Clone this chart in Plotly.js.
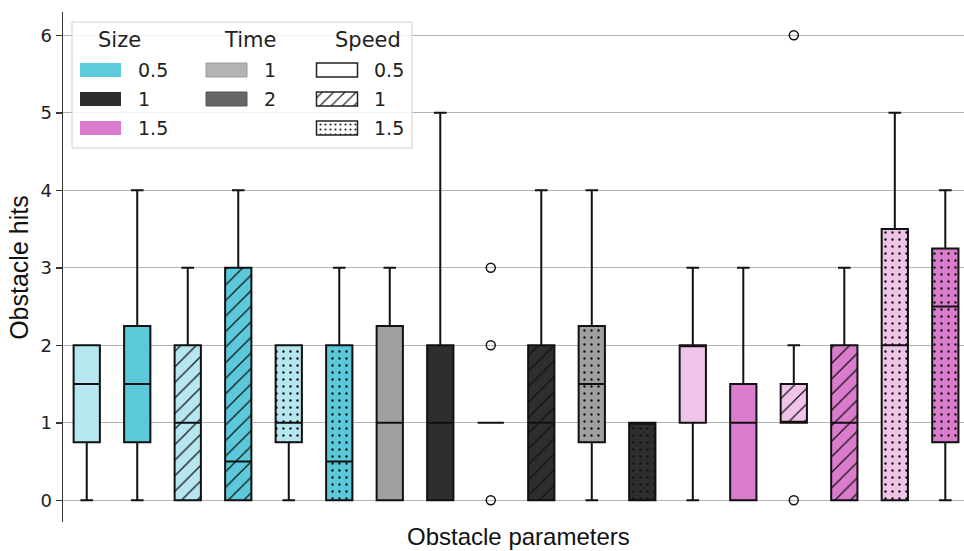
<!DOCTYPE html>
<html><head><meta charset="utf-8">
<script src="https://cdn.plot.ly/plotly-3.0.1.min.js"></script>
<style>html,body{margin:0;padding:0;background:#fff}#chart{width:964px;height:551px}</style>
</head><body><div id="chart"></div>
<script>
// ---- data ----
const sizeCat  = ['0.5','0.5','0.5','0.5','0.5','0.5','1','1','1','1','1','1','1.5','1.5','1.5','1.5','1.5','1.5'];
const timeCat  = ['1','2','1','2','1','2','1','2','1','2','1','2','1','2','1','2','1','2'];
const speedCat = ['0.5','0.5','1','1','1.5','1.5','0.5','0.5','1','1','1.5','1.5','0.5','0.5','1','1','1.5','1.5'];
const q1Vals     = [0.75,0.75,0,0,0.75,0,  0,0,1,0,0.75,0,  1,0,1,0,0,0.75];
const medianVals = [1.5,1.5,1,0.5,1,0.5,   1,1,1,1,1.5,1,   2,1,1,1,2,2.5];
const q3Vals     = [2,2.25,2,3,2,2,        2.25,2,1,2,2.25,1, 2,1.5,1.5,2,3.5,3.25];
const lowerVals  = [0,0,0,0,0,0,           0,0,1,0,0,0,     0,0,1,0,0,0];
const upperVals  = [2,4,3,4,2,3,           3,5,1,4,4,1,     3,3,2,3,5,4];
const outlierBox = [8,8,8,14,14];
const outlierVal = [0,2,3,0,6];
const yTicks = [0,1,2,3,4,5,6];

// legend entries
const legSize  = ['0.5','1','1.5'];
const legTime  = ['1','2'];
const legSpeed = ['0.5','1','1.5'];

// ---- styles ----
const fillMap = {
  '0.5': {'1':'#b6e7f0','2':'#5cc9da'},
  '1':   {'1':'#a0a0a0','2':'#2e2e2e'},
  '1.5': {'1':'#f0c4e9','2':'#d97ccb'}
};
const sizeLegColor = {'0.5':'#5ecbdc','1':'#2e2e2e','1.5':'#da7ccc'};
const timeLegColor = {'1':'#b3b3b3','2':'#666666'};
const patShape = {'0.5':'','1':'/','1.5':'.'};
const patSize  = {'0.5':8,'1':11,'1.5':7};
const patSol   = {'0.5':0.2,'1':0.11,'1.5':0.09};

const idx = sizeCat.map((_,i)=>i);
const traces = [];
// box fills (with patterns) drawn as bars between q1 and q3, one trace per box
idx.forEach(i=>{
  const fill = fillMap[sizeCat[i]][timeCat[i]];
  const sp = speedCat[i];
  const marker = {color: fill, line:{width:0}};
  if (patShape[sp]) marker.pattern = {shape: patShape[sp], bgcolor: fill, fgcolor:'#111111', fgopacity:1,
      size: patSize[sp], solidity: patSol[sp], fillmode:'overlay'};
  traces.push({type:'bar', x:[i], base:[q1Vals[i]], y:[q3Vals[i]-q1Vals[i]], width:0.52,
    marker: marker, hoverinfo:'skip', showlegend:false});
});
// box outlines, medians, whiskers
traces.push({
  type:'box', x: idx, q1: q1Vals, median: medianVals, q3: q3Vals,
  lowerfence: lowerVals, upperfence: upperVals,
  width:0.52, whiskerwidth:0.48, fillcolor:'rgba(0,0,0,0)',
  line:{color:'#111', width:2}, boxpoints:false, hoverinfo:'skip', showlegend:false
});
// outliers
traces.push({
  type:'scatter', mode:'markers', x: outlierBox, y: outlierVal,
  marker:{symbol:'circle-open', size:9, color:'#111', line:{width:1.5, color:'#111'}},
  hoverinfo:'skip', showlegend:false
});

// ---- custom legend on a pixel-based helper axis ----
const legBox = {x0:72, x1:412, y0:22, y1:148};
const colX = [100.5, 226.5, 337];
const rowY = [63, 92, 121];
const swW = 41, swH = 14;
traces.push({
  type:'bar', xaxis:'x2', yaxis:'y2', x:[(legBox.x0+legBox.x1)/2], base:[legBox.y0], y:[legBox.y1-legBox.y0],
  width:[legBox.x1-legBox.x0], marker:{color:'rgba(255,255,255,0.85)', line:{color:'#cfcfcf', width:1}},
  hoverinfo:'skip', showlegend:false
});
function swatch(cx, top, color, lineColor, lineW, shape, psize, psol){
  const marker = {color: color, line:{color: lineColor, width: lineW}};
  if (shape) marker.pattern = {shape: shape, bgcolor: color, fgcolor:'#222222', fgopacity:1, size: psize, solidity: psol, fillmode:'overlay'};
  traces.push({type:'bar', xaxis:'x2', yaxis:'y2', x:[cx], base:[top], y:[swH], width:[swW], marker: marker, hoverinfo:'skip', showlegend:false});
}
legSize.forEach((k,r)=>swatch(colX[0], rowY[r], sizeLegColor[k], sizeLegColor[k], 0, '', 8, 0.2));
legTime.forEach((k,r)=>swatch(colX[1], rowY[r], timeLegColor[k], k==='1'?'#9a9a9a':'#555', 1, '', 8, 0.2));
legSpeed.forEach((k,r)=>swatch(colX[2], rowY[r], '#ffffff', '#222', 1.5, patShape[k], k==='1'?8:5, k==='1'?0.15:0.15));

const legFont = {family:'DejaVu Sans, sans-serif', size:19, color:'#222'};
const titleFont = {family:'DejaVu Sans, sans-serif', size:21, color:'#222'};
const ann = [];
[['Size',119],['Time',250],['Speed',368]].forEach(([t,x])=>ann.push({xref:'x2',yref:'y2',x:x,y:40,text:t,showarrow:false,font:titleFont,xanchor:'center',yanchor:'middle'}));
const labX = [136, 262, 372];
legSize.forEach((k,r)=>ann.push({xref:'x2',yref:'y2',x:labX[0],y:rowY[r]+swH/2,text:k,showarrow:false,font:legFont,xanchor:'left',yanchor:'middle'}));
legTime.forEach((k,r)=>ann.push({xref:'x2',yref:'y2',x:labX[1],y:rowY[r]+swH/2,text:k,showarrow:false,font:legFont,xanchor:'left',yanchor:'middle'}));
legSpeed.forEach((k,r)=>ann.push({xref:'x2',yref:'y2',x:labX[2],y:rowY[r]+swH/2,text:k,showarrow:false,font:legFont,xanchor:'left',yanchor:'middle'}));
// axis titles
const axFont = {family:'Liberation Sans, Arial, sans-serif', size:24, color:'#111'};
ann.push({xref:'paper',yref:'paper',x:0.506,y:-0.028,text:'Obstacle parameters',showarrow:false,font:axFont,xanchor:'center',yanchor:'middle'});
ann.push({xref:'paper',yref:'paper',x:-0.049,y:0.50,text:'Obstacle hits',showarrow:false,font:{family:axFont.family,size:25,color:'#111'},textangle:-90,xanchor:'center',yanchor:'middle'});

const layout = {
  width:964, height:551, margin:{l:63,r:0,t:12,b:29},
  paper_bgcolor:'#fff', plot_bgcolor:'#fff', showlegend:false, barmode:'overlay',
  xaxis:{range:[-0.47,17.37], showgrid:false, zeroline:false, showline:false, showticklabels:false, ticks:'', fixedrange:true},
  yaxis:{range:[-0.28,6.3], tickvals:yTicks, ticktext:yTicks.map(String), showgrid:true, gridcolor:'#b3b3b3', gridwidth:1,
    zeroline:false, showline:true, linecolor:'#333', linewidth:1.5, ticks:'outside', ticklen:6, tickwidth:1.5, tickcolor:'#333',
    tickfont:{family:'DejaVu Sans, sans-serif', size:18, color:'#222'}, fixedrange:true},
  xaxis2:{overlaying:'x', range:[63,964], visible:false, fixedrange:true},
  yaxis2:{overlaying:'y', range:[522,12], visible:false, fixedrange:true},
  annotations: ann
};
Plotly.newPlot('chart', traces, layout, {displayModeBar:false, staticPlot:true});
</script>
</body></html>
